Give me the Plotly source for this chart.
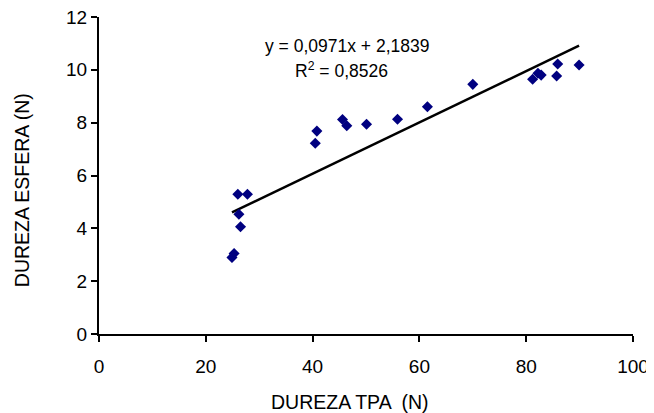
import plotly.graph_objects as go

tpa = [24.9, 25.3, 26.0, 27.8, 26.2, 26.5, 40.5, 40.8, 45.6, 46.4, 50.1, 55.9, 61.5,
       70.0, 81.2, 82.2, 82.8, 85.7, 85.9, 89.9]
esfera = [2.9, 3.05, 5.29, 5.29, 4.53, 4.06, 7.22, 7.68, 8.12, 7.88, 7.94, 8.13, 8.6,
          9.45, 9.64, 9.87, 9.8, 9.77, 10.22, 10.18]

slope = 0.0971
intercept = 2.1839
trend_x = [min(tpa), max(tpa)]
trend_y = [slope * v + intercept for v in trend_x]

x_title = "DUREZA TPA  (N)"
y_title = "DUREZA ESFERA (N)"
eq_text = "y = 0,0971x + 2,1839"
r2_text = "R<sup>2</sup> = 0,8526"

font = "Liberation Sans, Arial, sans-serif"

fig = go.Figure()
fig.add_trace(go.Scatter(x=trend_x, y=trend_y, mode="lines",
                         line=dict(color="black", width=2.5), showlegend=False,
                         hoverinfo="skip"))
fig.add_trace(go.Scatter(x=tpa, y=esfera, mode="markers",
                         marker=dict(symbol="diamond", size=8.5, color="#000080",
                                     line=dict(width=0)),
                         showlegend=False))

fig.add_annotation(x=46.4, y=10.9, xref="x", yref="y", showarrow=False,
                   xanchor="center", yanchor="middle",
                   text=eq_text, font=dict(family=font, size=17.5, color="black"))
fig.add_annotation(x=45.5, y=10.0, xref="x", yref="y", showarrow=False,
                   xanchor="center", yanchor="middle",
                   text=r2_text, font=dict(family=font, size=17.5, color="black"))

fig.add_annotation(x=0.47, y=-0.213, xref="paper", yref="paper", showarrow=False,
                   xanchor="center", yanchor="middle",
                   text=x_title, font=dict(family=font, size=19.5, color="black"))
fig.add_annotation(x=-0.144, y=0.454, xref="paper", yref="paper", showarrow=False,
                   xanchor="center", yanchor="middle", textangle=-90,
                   text=y_title, font=dict(family=font, size=19.5, color="black"))

# the page body has an 8px default margin, so the figure is made 8px smaller
fig.update_layout(
    width=646, height=405,
    margin=dict(l=91, r=21, t=9, b=79),
    plot_bgcolor="white", paper_bgcolor="white",
    font=dict(family=font, size=19, color="black"),
)
fig.update_xaxes(range=[0, 100], dtick=20, tick0=0, showgrid=False, zeroline=False,
                 showline=True, linecolor="black", linewidth=2,
                 ticks="outside", ticklen=6, tickwidth=2, tickcolor="black",
                 tickfont=dict(size=19), ticklabelstandoff=8, automargin=False,
                 ticklabeloverflow="allow")
fig.update_yaxes(range=[0, 12], dtick=2, tick0=0, showgrid=False, zeroline=False,
                 showline=True, linecolor="black", linewidth=2,
                 ticks="outside", ticklen=6, tickwidth=2, tickcolor="black",
                 tickfont=dict(size=19), automargin=False,
                 ticklabeloverflow="allow")

fig.write_html("out.html")
